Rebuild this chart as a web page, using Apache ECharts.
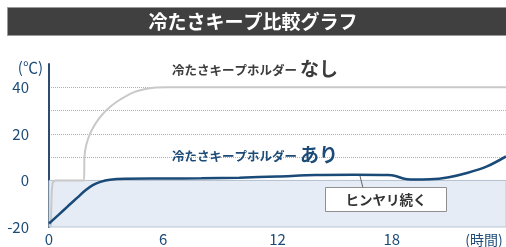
<!DOCTYPE html>
<html>
<head>
<meta charset="utf-8">
<script src="https://cdn.jsdelivr.net/npm/echarts@6/dist/echarts.min.js"></script>
<style>
html,body{margin:0;padding:0;background:#fff;}
#chart{width:506px;height:247px;}
</style>
</head>
<body>
<div id="chart"></div>
<script>
// ---- data ----
var chartTitle = '冷たさキープ比較グラフ';
var xTickValues = [0, 6, 12, 18];
var yTickValues = [-20, 0, 20, 40];
var xUnit = '(時間)';
var yUnit = '(℃)';
// [hour, °C]  without holder
var withoutHolder = [
  [0.1, -20], [0.14, -6], [0.2, -1], [0.35, 0], [1.84, 0], [1.86, 10],
  [1.95, 15], [2.15, 20], [2.45, 24.5], [2.8, 28.3], [3.2, 31.5], [3.6, 34],
  [4.0, 36], [4.5, 38], [5.0, 39.2], [5.6, 39.9], [6.2, 40], [24, 40]
];
// [hour, °C]  with holder
var withHolder = [
  [0, -18.5], [0.5, -14.8], [1, -11], [1.5, -7.3], [1.9, -4.3], [2.3, -2],
  [2.7, -0.6], [3.2, 0.3], [4, 0.7], [6, 0.8], [8, 0.9], [10, 1.2],
  [12, 1.7], [14, 2.3], [16, 2.4], [17.8, 2.3], [18.2, 1.9], [18.6, 0.8],
  [19, 0.4], [20, 0.5], [21, 1.4], [22, 3.3], [23, 6], [24, 10.3]
];
var labelWithout = ['冷たさキープホルダー', 'なし'];
var labelWith = ['冷たさキープホルダー', 'あり'];
var calloutText = 'ヒンヤリ続く';
var coolBand = [-20, 0];

var FONT = '"Noto Sans CJK JP", "Noto Sans", sans-serif';
var NAVY = '#1d4b78';

var chart = echarts.init(document.getElementById('chart'));
chart.setOption({
  animation: false,
  title: {
    text: chartTitle,
    left: 'center',
    top: 7,
    padding: [2, 0, 0, 0],
    textStyle: { color: '#ffffff', fontSize: 19, fontWeight: 'bold', fontFamily: FONT, lineHeight: 26 },
    z: 10
  },
  grid: { left: 49, right: 0, top: 64, bottom: 20 },
  xAxis: {
    type: 'value', min: 0, max: 24, interval: 6,
    axisLine: { lineStyle: { color: '#2d4a6f', width: 2 } },
    axisTick: { show: false },
    splitLine: { show: false },
    axisLabel: {
      color: NAVY, fontSize: 15, fontFamily: FONT, margin: 5, showMaxLabel: false,
      formatter: function (v) { return xTickValues.indexOf(v) >= 0 ? String(v) : ''; }
    }
  },
  yAxis: {
    type: 'value', min: -20, max: 50, interval: 10,
    name: yUnit, nameLocation: 'end', nameGap: -3,
    nameTextStyle: { color: NAVY, fontSize: 15, fontFamily: FONT, align: 'right', verticalAlign: 'middle', padding: [0, 6, 0, 0] },
    axisLine: { show: true, lineStyle: { color: '#2d4a6f', width: 2 } },
    axisTick: { show: false },
    splitLine: { show: true, showMinLine: false, showMaxLine: false, lineStyle: { color: '#b0b0b0', type: 'dotted', width: 1 } },
    axisLabel: {
      color: NAVY, fontSize: 15, fontFamily: FONT, margin: 20,
      formatter: function (v) { return yTickValues.indexOf(v) >= 0 ? String(v) : ''; }
    }
  },
  series: [
    {
      type: 'line', name: 'なし', data: withoutHolder, showSymbol: false, smooth: 0.2,
      lineStyle: { color: '#c9c9c9', width: 2 }, z: 3
    },
    {
      type: 'line', name: 'あり', data: withHolder, showSymbol: false, smooth: 0.3,
      lineStyle: { color: '#194a78', width: 2.5 }, z: 4,
      markArea: {
        silent: true,
        itemStyle: { color: '#e5ecf6', borderColor: '#bcc6d2', borderWidth: 1 },
        data: [[{ yAxis: coolBand[0] }, { yAxis: coolBand[1] }]]
      }
    }
  ],
  graphic: [
    {
      type: 'rect', left: 7, top: 7, z: 1,
      shape: { width: 499, height: 28 },
      style: { fill: '#404040', stroke: '#9a9a9a', lineWidth: 1 }
    },
    {
      type: 'text', x: 484, y: 240, z: 20,
      style: {
        text: xUnit, fontSize: 14, fill: NAVY, fontFamily: FONT,
        textAlign: 'center', textVerticalAlign: 'middle'
      }
    },
    {
      type: 'text', left: 172, top: 59, z: 20,
      style: {
        text: '{s|' + labelWithout[0] + '}{b|' + labelWithout[1] + '}',
        rich: {
          s: { fontSize: 12.5, fontWeight: 'bold', fill: '#3c3c3c', fontFamily: FONT, verticalAlign: 'bottom', padding: [0, 3, 2, 0] },
          b: { fontSize: 19, fontWeight: 'bold', fill: '#3c3c3c', fontFamily: FONT, verticalAlign: 'bottom' }
        }
      }
    },
    {
      type: 'text', left: 172, top: 145, z: 20,
      style: {
        text: '{s|' + labelWith[0] + '}{b|' + labelWith[1] + '}',
        rich: {
          s: { fontSize: 12.5, fontWeight: 'bold', fill: NAVY, fontFamily: FONT, verticalAlign: 'bottom', padding: [0, 3, 2, 0] },
          b: { fontSize: 19, fontWeight: 'bold', fill: NAVY, fontFamily: FONT, verticalAlign: 'bottom' }
        }
      }
    },
    {
      type: 'line', z: 20,
      shape: { x1: 360, y1: 176, x2: 363, y2: 188 },
      style: { stroke: '#666666', lineWidth: 1 }
    },
    {
      type: 'rect', left: 325, top: 187, z: 20,
      shape: { width: 121, height: 24 },
      style: { fill: '#ffffff', stroke: '#8f8f8f', lineWidth: 1 }
    },
    {
      type: 'text', x: 386, y: 199.5, z: 21,
      style: {
        text: calloutText, fontSize: 13.5, fontWeight: 'bold', fill: '#333333', fontFamily: FONT,
        textAlign: 'center', textVerticalAlign: 'middle'
      }
    }
  ]
});
</script>
</body>
</html>
